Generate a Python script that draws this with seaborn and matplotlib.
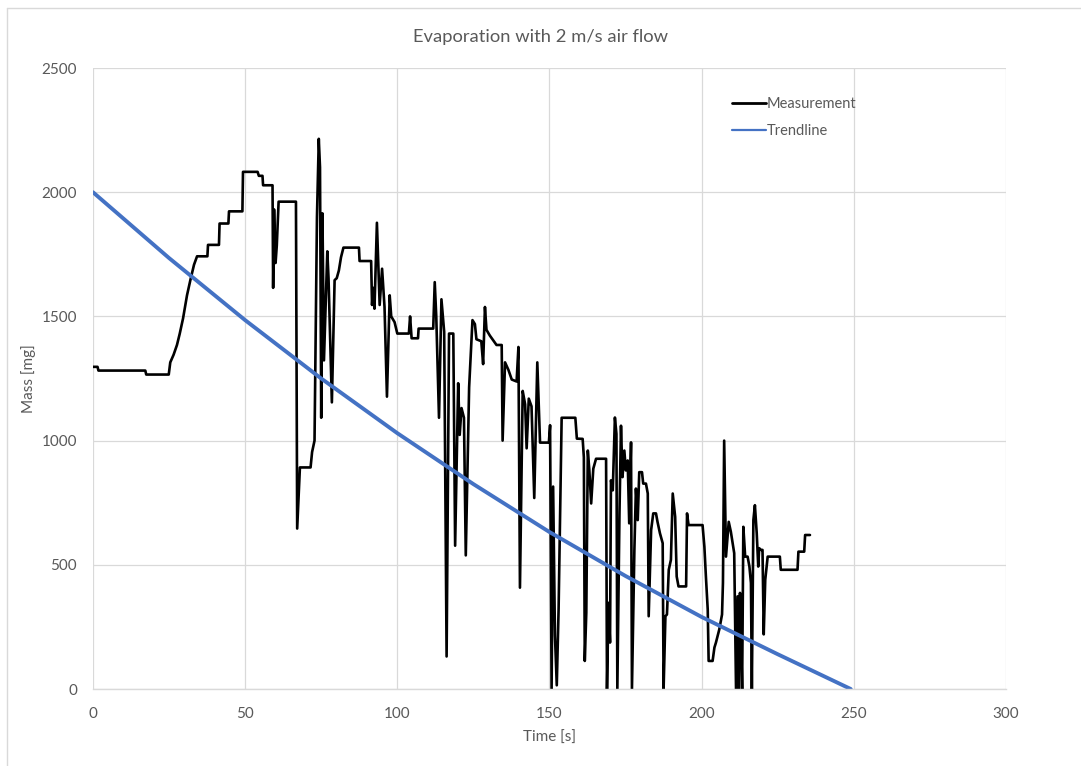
import matplotlib
matplotlib.use("Agg")
import matplotlib.pyplot as plt
import pandas as pd
import seaborn as sns
from matplotlib.lines import Line2D

# ---------------------------------------------------------
# DATA
# ---------------------------------------------------------
meas_time = [
    0, 1.5, 1.8, 17.2, 17.5, 24.9, 25.4, 26.5, 27.6, 28.5, 29.6, 30.9, 32, 33.2,
    34.2, 37.6, 37.8, 41.4, 41.6, 44.5, 44.7, 49.1, 49.3, 54.1, 54.5, 55.7, 55.9,
    59, 59.2, 59.5, 60, 60.4, 61, 66.7, 67.1, 68, 71.5, 72, 72.8, 73.6, 74.2, 74.6,
    75, 75.4, 75.9, 77, 77.4, 78.5, 79.4, 80.1, 80.8, 81.5, 82.3, 87.4, 87.6, 91.4,
    91.7, 92.1, 92.5, 93.3, 94.2, 95, 95.8, 96.6, 97.5, 98, 99.1, 100, 103.8, 104.2,
    104.7, 106.8, 107, 111.8, 112.3, 112.8, 113.7, 114.5, 115.4, 116.2, 117, 118.4,
    119, 120, 120.5, 121.1, 121.9, 122.5, 123.6, 124.7, 125.5, 126, 127.6, 128.2,
    128.8, 129.3, 130.4, 132.6, 134.3, 134.6, 135.4, 136.5, 137.6, 139.2, 139.8,
    140.3, 141.2, 142, 142.5, 143.2, 144.1, 145, 146, 146.9, 149.8, 150.2, 150.7,
    151.2, 151.8, 152.4, 153, 154, 158.5, 159, 160.9, 161.3, 161.6, 162.1, 162.6,
    163.1, 163.7, 164.4, 165.3, 168.6, 168.9, 169.4, 169.9, 170.2, 170.8, 171.5,
    172.0, 172.3, 173.0, 173.5, 174.0, 174.6, 175.1, 175.7, 176.2, 176.8, 177.1,
    177.9, 178.4, 179.0, 179.5, 180.4, 180.8, 181.7, 182.3, 182.6, 183.4, 184.1,
    185.0, 185.5, 186.3, 187.2, 187.5, 188.1, 188.6, 189.2, 189.9, 190.5, 191.3,
    191.8, 192.4, 194.9, 195.2, 195.7, 200.3, 200.9, 201.4, 202.0, 202.3, 203.6,
    204.2, 204.7, 205.8, 206.7, 207.0, 207.4, 208.0, 208.9, 209.6, 210.2, 210.7,
    211.3, 211.8, 212.2, 212.6, 212.9, 213.3, 213.7, 214.3, 215.1, 215.7, 216.2,
    216.5, 217.0, 217.5, 218.1, 218.6, 218.9, 219.5, 220.0, 220.4, 220.9, 221.7,
    225.7, 226.0, 231.5, 231.8, 233.7, 234.0, 235.6,
]
meas_mass = [
    1297, 1297, 1282, 1282, 1266, 1266, 1315, 1346, 1385, 1430, 1492, 1585, 1646,
    1708, 1742, 1742, 1788, 1788, 1874, 1874, 1923, 1923, 2082, 2082, 2066, 2066,
    2028, 2028, 1615, 1931, 1715, 1785, 1962, 1962, 646, 892, 892, 954, 1000, 1900,
    2215, 2100, 1092, 1915, 1323, 1762, 1654, 1154, 1646, 1654, 1685, 1738, 1777,
    1777, 1723, 1723, 1546, 1615, 1531, 1877, 1546, 1692, 1538, 1177, 1585, 1500,
    1477, 1431, 1431, 1500, 1412, 1412, 1451, 1451, 1638, 1500, 1092, 1569, 1438,
    131, 1431, 1431, 577, 1231, 1023, 1131, 1092, 538, 1215, 1485, 1469, 1408, 1400,
    1308, 1538, 1446, 1423, 1385, 1385, 1000, 1315, 1285, 1246, 1238, 1377, 408,
    1200, 1146, 969, 1169, 1138, 769, 1315, 992, 992, 1062, 0, 815, 215, 15, 323,
    1092, 1092, 1008, 1007, 933, 113, 307, 960, 880, 747, 887, 927, 927, 0, 347, 187,
    840, 800, 1093, 1027, 0, 707, 1060, 853, 960, 880, 920, 667, 993, 0, 560, 807,
    680, 873, 873, 827, 827, 787, 293, 640, 707, 707, 673, 627, 587, 0, 293, 300,
    480, 520, 787, 693, 453, 413, 413, 707, 660, 660, 573, 453, 320, 113, 113, 167,
    187, 240, 300, 427, 1000, 533, 673, 633, 587, 547, 0, 373, 0, 387, 253, 0, 653,
    533, 533, 493, 427, 0, 680, 740, 627, 493, 567, 560, 560, 220, 440, 533, 533,
    480, 480, 553, 553, 620, 620,
]

trend_time = [0, 25, 50, 75, 100, 125, 150, 175, 200, 225, 249]
trend_mass = [2000, 1735, 1485, 1250, 1030, 825, 632, 455, 290, 140, 0]

x_ticks = [0, 50, 100, 150, 200, 250, 300]
y_ticks = [0, 500, 1000, 1500, 2000, 2500]

LABEL_GRAY = "#595959"
GRID_GRAY = "#d9d9d9"

sns.set_theme(style="whitegrid")
plt.rcParams["font.family"] = ["Lato", "DejaVu Sans"]


def main():
    meas = pd.DataFrame({"Time": meas_time, "Mass": meas_mass})
    trend = pd.DataFrame({"Time": trend_time, "Mass": trend_mass})

    fig = plt.figure(figsize=(10.81, 7.66), dpi=100)
    ax = fig.add_axes([0.086, 0.1005, 0.8446, 0.8107])

    sns.lineplot(data=meas, x="Time", y="Mass", sort=False, estimator=None,
                 color="black", linewidth=1.9, ax=ax, label="Measurement")
    sns.lineplot(data=trend, x="Time", y="Mass", sort=False, estimator=None,
                 color="#4472c4", linewidth=2.8, ax=ax, label="Trendline")

    ax.set_xlim(0, 300)
    ax.set_ylim(0, 2500)
    ax.set_xticks(x_ticks)
    ax.set_yticks(y_ticks)
    ax.grid(True, color=GRID_GRAY, linewidth=0.9)
    ax.tick_params(axis="both", length=0, labelsize=11, labelcolor=LABEL_GRAY)
    ax.tick_params(axis="x", pad=13)
    ax.tick_params(axis="y", pad=11.5)

    for side in ["top", "right", "left"]:
        ax.spines[side].set_visible(False)
    ax.spines["bottom"].set_color(GRID_GRAY)
    ax.spines["bottom"].set_linewidth(1.0)

    ax.set_xlabel("Time [s]", fontsize=11, color=LABEL_GRAY, labelpad=7)
    ax.set_ylabel("Mass [mg]", fontsize=11, color=LABEL_GRAY, labelpad=4)

    leg = ax.legend(loc="upper left", bbox_to_anchor=(0.694, 0.963), frameon=False,
                    fontsize=10.5, handlelength=2.3, handletextpad=0.05,
                    labelspacing=0.9, borderaxespad=0)
    for text in leg.get_texts():
        text.set_color(LABEL_GRAY)
    leg.get_lines()[0].set_linewidth(2.0)
    leg.get_lines()[1].set_linewidth(1.6)

    fig.text(0.5, 0.952, "Evaporation with 2 m/s air flow", ha="center", va="center",
             fontsize=13.2, color=LABEL_GRAY)

    # thin chart-area border (left and top edges visible in reference)
    bx = 7.5 / 1081
    by = 1 - 7.5 / 766
    fig.add_artist(Line2D([bx, bx], [0, by], color=GRID_GRAY, linewidth=1.0))
    fig.add_artist(Line2D([bx, 1], [by, by], color=GRID_GRAY, linewidth=1.0))

    fig.savefig("out.png", dpi=100)
    plt.close(fig)


if __name__ == "__main__":
    main()
